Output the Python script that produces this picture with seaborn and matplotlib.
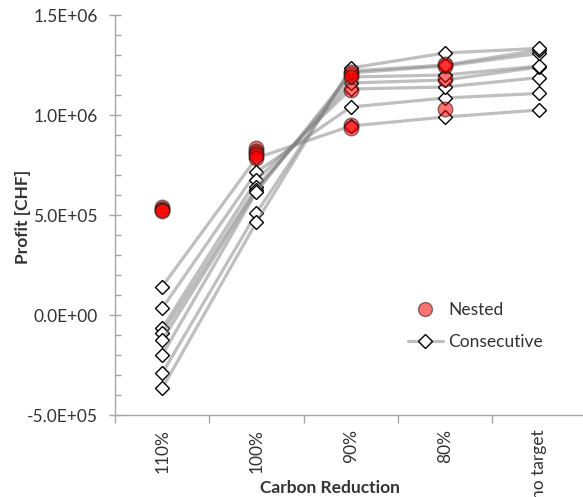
import matplotlib
matplotlib.use("Agg")
import matplotlib.pyplot as plt
from matplotlib.lines import Line2D
from matplotlib.ticker import MultipleLocator, FuncFormatter
import seaborn as sns
import pandas as pd

# ---- data ----
categories = ["110%", "100%", "90%", "80%", "no target"]

# Nested runs (scatter only), values per category
nested_110 = [5.40e5, 5.32e5, 5.26e5, 5.20e5]
nested_100 = [8.35e5, 8.20e5, 8.10e5, 8.00e5, 7.85e5]
nested_90 = [1.215e6, 1.205e6, 1.190e6, 1.125e6, 0.950e6, 0.935e6]
nested_80 = [1.255e6, 1.245e6, 1.180e6, 1.030e6]
nested_nt = []

# Consecutive runs (8 lines over the five categories)
cons_1 = [1.42e5, 7.85e5, 0.945e6, 0.990e6, 1.025e6]
cons_2 = [0.33e5, 7.15e5, 1.040e6, 1.085e6, 1.108e6]
cons_3 = [-0.67e5, 6.75e5, 1.130e6, 1.140e6, 1.187e6]
cons_4 = [-0.92e5, 6.40e5, 1.160e6, 1.175e6, 1.240e6]
cons_5 = [-1.25e5, 6.25e5, 1.190e6, 1.200e6, 1.245e6]
cons_6 = [-2.00e5, 6.15e5, 1.210e6, 1.245e6, 1.308e6]
cons_7 = [-2.92e5, 5.10e5, 1.220e6, 1.250e6, 1.325e6]
cons_8 = [-3.67e5, 4.65e5, 1.235e6, 1.310e6, 1.333e6]

series_names = ["Nested", "Consecutive"]
y_ticks = [-5e5, 0, 5e5, 1e6, 1.5e6]

# ---- build tables ----
nested_rows = []
for cat, vals in zip(categories, [nested_110, nested_100, nested_90, nested_80, nested_nt]):
    for v in vals:
        nested_rows.append({"cat": cat, "profit": v})
nested_df = pd.DataFrame(nested_rows)

cons_rows = []
for i, run in enumerate([cons_1, cons_2, cons_3, cons_4, cons_5, cons_6, cons_7, cons_8]):
    for cat, v in zip(categories, run):
        cons_rows.append({"cat": cat, "profit": v, "run": i})
cons_df = pd.DataFrame(cons_rows)

# ---- style ----
sns.set_style("white")
plt.rcParams["font.family"] = ["Lato", "DejaVu Sans"]
text_color = "#333333"
spine_color = "#a6a6a6"
fs = 12.5

fig = plt.figure(figsize=(5.83, 4.97), dpi=100)
ax = fig.add_axes([115 / 583, 1 - 415 / 497, 471.5 / 583, 400 / 497])

line_color = (0.5, 0.5, 0.5, 0.5)
sns.lineplot(data=cons_df, x="cat", y="profit", units="run", estimator=None,
             sort=False, color=line_color, linewidth=2.3,
             marker="D", markersize=7.5, markerfacecolor="white",
             markeredgecolor="black", markeredgewidth=1.0,
             legend=False, ax=ax, zorder=2)

nested_face = "#ff0000"
sns.scatterplot(data=nested_df, x="cat", y="profit", color=nested_face,
                s=110, alpha=0.55, edgecolor="#1a1a1a", linewidth=1.0,
                legend=False, ax=ax, zorder=3)

# ---- axes ----
ax.set_xlim(-0.5, 4.5)
ax.set_ylim(-5e5, 1.5e6)
ax.set_yticks(y_ticks)
ax.yaxis.set_minor_locator(MultipleLocator(1e5))
ax.yaxis.set_major_formatter(FuncFormatter(
    lambda v, p: ("%.1E" % v) if v != 0 else "0.0E+00"))

ax.set_xticks(range(len(categories)))
ax.set_xticklabels(categories, rotation=90, va="top", ha="center")
ax.set_xticks([i - 0.5 for i in range(len(categories) + 1)], minor=True)

for side in ["top", "right"]:
    ax.spines[side].set_visible(False)
for side in ["left", "bottom"]:
    ax.spines[side].set_color(spine_color)
    ax.spines[side].set_linewidth(1.0)

ax.tick_params(left=True, bottom=True, which="both")
ax.tick_params(axis="y", which="major", direction="inout", length=9, width=1,
               color=spine_color, labelsize=fs, labelcolor=text_color, pad=8)
ax.tick_params(axis="y", which="minor", direction="in", length=4, width=1,
               color=spine_color)
ax.tick_params(axis="x", which="major", length=0, labelsize=fs,
               labelcolor=text_color, pad=10)
ax.tick_params(axis="x", which="minor", direction="out", length=6, width=1,
               color=spine_color)

ax.set_xlabel("Carbon Reduction", fontsize=fs, fontweight="bold", color=text_color)
ax.set_ylabel("Profit [CHF]", fontsize=fs, fontweight="bold", color=text_color)
ax.xaxis.set_label_coords((330 - 115) / 471.5, (415 - 488) / 400)
ax.xaxis.label.set_va("center")
ax.yaxis.set_label_coords((23 - 115) / 471.5, (415 - 217) / 400)
ax.yaxis.label.set_va("center")

# ---- legend ----
h_nested = Line2D([], [], linestyle="none", marker="o", markersize=10,
                  markerfacecolor=(1, 0, 0, 0.55), markeredgecolor=(0.1, 0.1, 0.1, 0.55),
                  markeredgewidth=1.0)
h_cons = Line2D([], [], color=line_color, linewidth=2.3, marker="D",
                markersize=7.5, markerfacecolor="white", markeredgecolor="black",
                markeredgewidth=1.0)
leg = ax.legend([h_nested, h_cons], series_names, loc="upper left",
                bbox_to_anchor=(408 / 583, 1 - 302 / 497), bbox_transform=fig.transFigure,
                frameon=False, fontsize=fs, handlelength=2.0, handletextpad=0.3,
                labelspacing=0.95, borderpad=0, borderaxespad=0)
for t in leg.get_texts():
    t.set_color(text_color)

fig.savefig("out.png", dpi=100)
